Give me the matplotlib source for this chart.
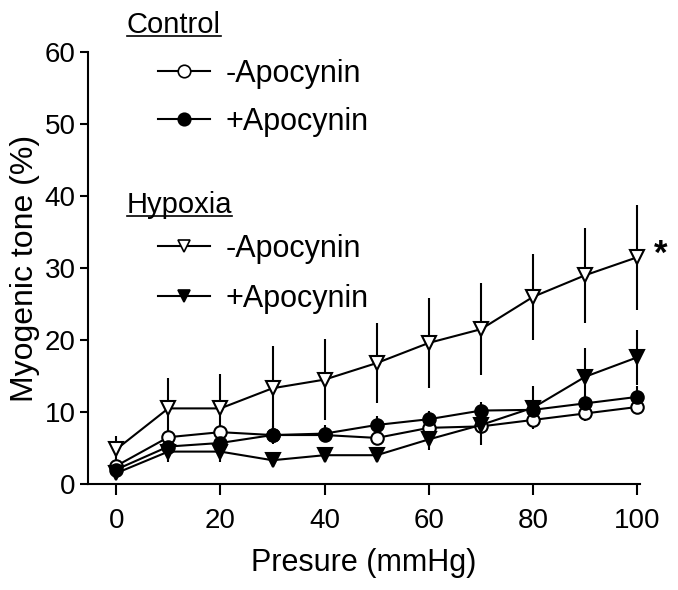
import matplotlib
matplotlib.use("Agg")
import matplotlib.pyplot as plt
from matplotlib.lines import Line2D

plt.rcParams['font.family'] = ['Liberation Sans', 'DejaVu Sans']

# ---- data ----
pressure = [0, 10, 20, 30, 40, 50, 60, 70, 80, 90, 100]
ctrl_minus = [2.5, 6.5, 7.2, 6.8, 6.8, 6.4, 7.8, 8.0, 8.9, 9.8, 10.7]
ctrl_minus_err = [0.8, 1.0, 1.0, 1.0, 1.0, 1.0, 1.0, 1.0, 1.0, 1.0, 1.0]
ctrl_plus = [2.0, 5.2, 5.7, 6.8, 7.0, 8.2, 9.0, 10.2, 10.3, 11.2, 12.1]
ctrl_plus_err = [1.0, 1.2, 1.2, 1.2, 1.2, 1.2, 1.2, 1.2, 1.2, 1.2, 1.5]
hyp_minus = [4.8, 10.5, 10.5, 13.3, 14.5, 16.8, 19.6, 21.5, 26.0, 29.0, 31.5]
hyp_minus_err = [1.8, 4.2, 4.8, 5.8, 5.6, 5.6, 6.2, 6.4, 6.0, 6.6, 7.3]
hyp_plus = [1.5, 4.5, 4.5, 3.3, 4.0, 4.0, 6.2, 8.2, 10.6, 14.9, 17.6]
hyp_plus_err = [1.0, 1.5, 1.5, 1.0, 1.0, 1.0, 1.5, 2.8, 3.0, 4.0, 3.8]

x_ticks = [0, 20, 40, 60, 80, 100]
y_ticks = [0, 10, 20, 30, 40, 50, 60]
legend_labels = ['-Apocynin', '+Apocynin']
group_titles = ['Control', 'Hypoxia']

W, H = 678, 590
fig = plt.figure(figsize=(W / 100, H / 100), dpi=100)
ax = fig.add_axes([88 / W, 1 - 484 / H, (640 - 88) / W, (484 - 52) / H])

lw = 1.5
common = dict(color='black', linewidth=lw, elinewidth=lw, capsize=0,
              markeredgecolor='black', markeredgewidth=1.5, clip_on=False)

series = [
    (ctrl_minus, ctrl_minus_err, 'o', 'white', 9),
    (ctrl_plus, ctrl_plus_err, 'o', 'black', 9),
    (hyp_minus, hyp_minus_err, 'v', 'white', 10),
    (hyp_plus, hyp_plus_err, 'v', 'black', 10),
]
for vals, errs, mk, fc, ms in series:
    ax.errorbar(pressure, vals, yerr=errs, marker=mk, markerfacecolor=fc,
                markersize=ms, **common)

ax.annotate('*', xy=(pressure[-1], hyp_minus[-1]), xytext=(12, 2),
            textcoords='offset points', fontsize=25, fontweight='bold',
            ha='left', va='center')

ax.set_xlim(-5.4, 100.5)
ax.set_ylim(0, 60)
ax.set_xticks(x_ticks)
ax.set_yticks(y_ticks)
for lab in ax.get_xticklabels() + ax.get_yticklabels():
    lab.set_fontsize(20)
ax.tick_params(axis='x', direction='out', length=8, width=1.5, pad=9)
ax.tick_params(axis='y', direction='out', length=6, width=1.5, pad=3)
for s in ['top', 'right']:
    ax.spines[s].set_visible(False)
for s in ['left', 'bottom']:
    ax.spines[s].set_linewidth(1.5)

ax.set_xlabel('Presure (mmHg)', fontsize=22, labelpad=10)
ax.set_ylabel('Myogenic tone (%)', fontsize=23, labelpad=3)

# legends
def make_handles(mk, ms):
    return [Line2D([], [], color='black', linewidth=lw, marker=mk,
                   markerfacecolor=fc, markeredgecolor='black',
                   markeredgewidth=1.2, markersize=ms)
            for fc in ['white', 'black']]

leg_kw = dict(frameon=False, fontsize=22, handlelength=1.7, handletextpad=0.5,
              borderpad=0, borderaxespad=0, loc='upper left')
leg1 = fig.legend(make_handles('o', 9), legend_labels, labelspacing=0.58,
                  bbox_to_anchor=(158 / W, 1 - 59 / H), **leg_kw)
leg2 = fig.legend(make_handles('v', 9), legend_labels, labelspacing=0.65,
                  bbox_to_anchor=(158 / W, 1 - 234 / H), **leg_kw)

titles = [
    fig.text(127 / W, 1 - 33 / H, group_titles[0], fontsize=21,
             ha='left', va='baseline'),
    fig.text(127 / W, 1 - 213 / H, group_titles[1], fontsize=21,
             ha='left', va='baseline'),
]
fig.canvas.draw()
renderer = fig.canvas.get_renderer()
for t in titles:
    bb = t.get_window_extent(renderer).transformed(fig.transFigure.inverted())
    x0, y0 = t.get_position()
    uy = y0 - 3 / H
    fig.add_artist(Line2D([bb.x0, bb.x1], [uy, uy], color='black',
                          linewidth=1.2, transform=fig.transFigure))

fig.savefig('out.png', dpi=100)
